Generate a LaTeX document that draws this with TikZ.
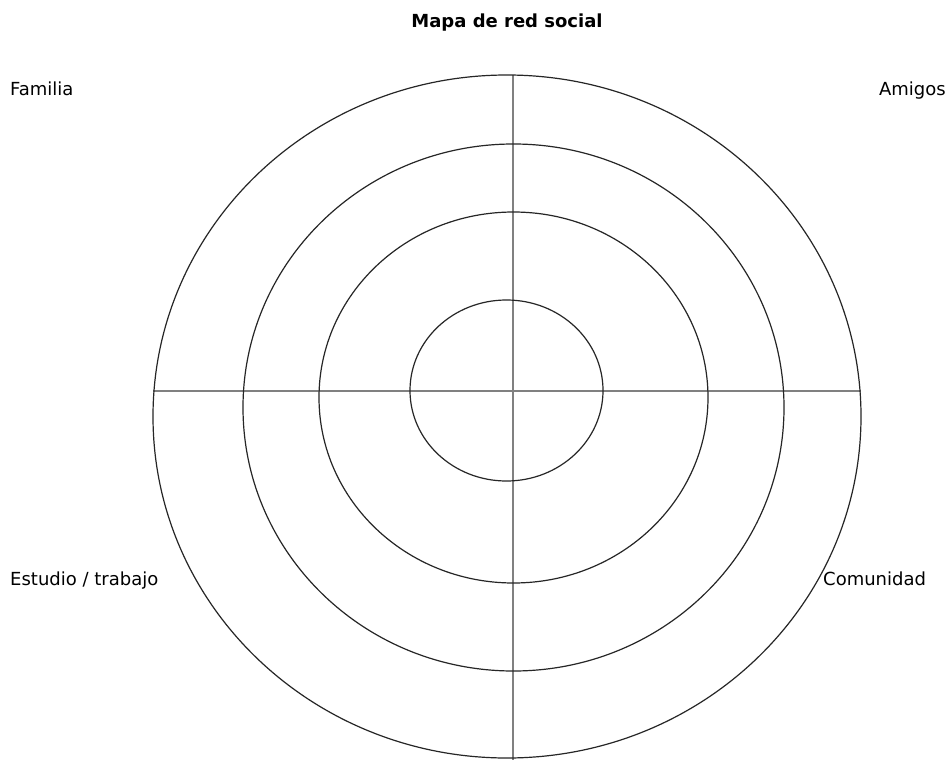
\documentclass[tikz,border=0pt]{standalone}
\usepackage{fontspec}
\setmainfont{DejaVu Sans}
\usepackage{tikz}
\usetikzlibrary{positioning}

\tikzset{
  ring/.style={draw=black!85,line width=1.2pt},
  axisline/.style={draw=black!50,line width=1.4pt},
  lbl/.style={inner sep=0pt,font=\fontsize{18}{22}\selectfont}
}

\begin{document}
\begin{tikzpicture}[x=1pt,y=-1pt]
    \useasboundingbox[fill=white] (0,0) rectangle (950,760);

    \coordinate (top) at (513,75);
    \coordinate (bot) at (513,760);
    \coordinate (lft) at (153,391);
    \coordinate (rgt) at (861,391);

    \draw[axisline] (top)--(bot);
    \draw[axisline] (lft)--(rgt);

    \draw[ring] (507,416.5) ellipse (354 and 341.5);
    \draw[ring] (513.5,407.5) ellipse (270.5 and 263.5);
    \draw[ring] (513.5,397.5) ellipse (194.5 and 185.5);
    \draw[ring] (506.5,390.5) ellipse (96.5 and 90.5);

    \node[lbl,font=\fontsize{18}{22}\selectfont\bfseries,anchor=base] (title) at (507,28) {Mapa de red social};
    \node[lbl,anchor=base west] (familia) at (10,95) {Familia};
    \node[lbl,anchor=base east] (amigos) at (946,95) {Amigos};
    \node[lbl,anchor=base west] (estudio) at (10,585) {Estudio / trabajo};
    \node[lbl,anchor=base west] (comunidad) at (823,585) {Comunidad};
\end{tikzpicture}
\end{document}
